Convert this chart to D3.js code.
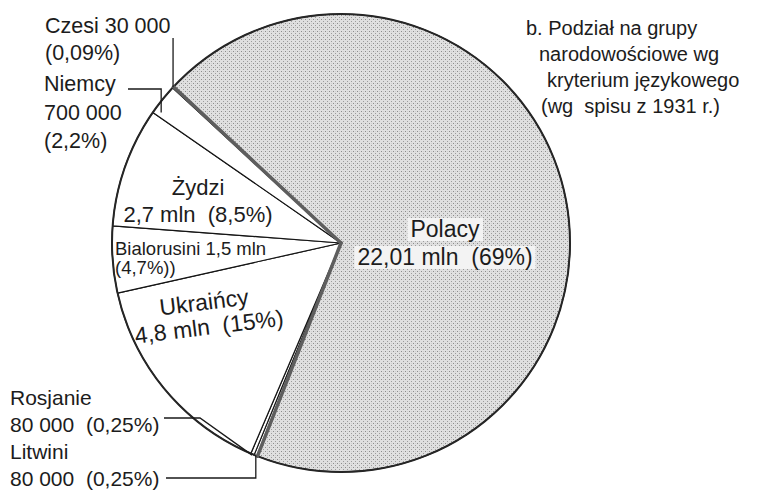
<!DOCTYPE html>
<html>
<head>
<meta charset="utf-8">
<script src="https://cdn.jsdelivr.net/npm/d3@7"></script>
<style>
  body { margin: 0; background: #fff; }
  svg { display: block; font-family: "Liberation Sans", Arial, sans-serif; }
  text { fill: #1c1c1c; white-space: pre; }
</style>
</head>
<body>
<svg width="757" height="495"></svg>
<script>
// spis 1931, tys. osób, kolejność zgodnie z ruchem wskazówek zegara od Polaków
const groups = ['Polacy', 'Litwini', 'Rosjanie', 'Ukraińcy', 'Bialorusini', 'Żydzi', 'Niemcy', 'Czesi'];
const population = [22010, 80, 80, 4800, 1500, 2700, 700, 30];
const amountLabels = ['22,01 mln', '80 000', '80 000', '4,8 mln', '1,5 mln', '2,7 mln', '700 000', '30 000'];
const shareLabels = ['(69%)', '(0,25%)', '(0,25%)', '(15%)', '(4,7%))', '(8,5%)', '(2,2%)', '(0,09%)'];
const titleLines = ['b. Podział na grupy', 'narodowościowe wg', 'kryterium językowego', '(wg  spisu z 1931 r.)'];

const svg = d3.select('svg');
const cx = 341, cy = 243, r = 229;
const deg = Math.PI / 180;

const defs = svg.append('defs');
const pat = defs.append('pattern')
    .attr('id', 'dots')
    .attr('width', 4).attr('height', 4)
    .attr('patternUnits', 'userSpaceOnUse');
pat.append('rect').attr('width', 4).attr('height', 4).attr('fill', '#e0e0e0');
pat.append('rect').attr('width', 1).attr('height', 1).attr('fill', '#8c8c8c');
pat.append('rect').attr('x', 2).attr('y', 2).attr('width', 1).attr('height', 1).attr('fill', '#9c9c9c');
pat.append('rect').attr('x', 2).attr('y', 0).attr('width', 1).attr('height', 1).attr('fill', '#cfcfcf');

const pie = d3.pie()
    .sort(null)
    .value(d => d)
    .startAngle(-47 * deg)
    .endAngle(313 * deg);
const arcs = pie(population);
const arc = d3.arc().innerRadius(0).outerRadius(r);

const g = svg.append('g').attr('transform', `translate(${cx},${cy})`);

g.selectAll('path.slice')
    .data(arcs)
    .enter().append('path')
    .attr('class', 'slice')
    .attr('d', arc)
    .attr('fill', (d, i) => i === 0 ? 'url(#dots)' : '#fff')
    .attr('stroke', '#151515')
    .attr('stroke-width', 1.2)
    .attr('stroke-linejoin', 'round');

g.append('circle')
    .attr('r', r)
    .attr('fill', 'none')
    .attr('stroke', '#262626')
    .attr('stroke-width', 2);

// grube szare krawędzie wycinka "Polacy"
const pol = arcs[0];
g.selectAll('line.edge')
    .data([pol.startAngle, pol.endAngle])
    .enter().append('line')
    .attr('class', 'edge')
    .attr('x2', a => d3.pointRadial(a, r)[0])
    .attr('y2', a => d3.pointRadial(a, r)[1])
    .attr('stroke', '#5e5e5e')
    .attr('stroke-width', 3.5)
    .attr('stroke-linecap', 'round');

// punkty zaczepienia odnośników (w układzie strony)
function atArc(d, frac, rad) {
    const a = d.startAngle + frac * (d.endAngle - d.startAngle);
    const p = d3.pointRadial(a, rad);
    return [cx + p[0], cy + p[1]];
}
const line = d3.line();
const leader = pts => svg.append('path')
    .attr('d', line(pts))
    .attr('fill', 'none')
    .attr('stroke', '#1a1a1a')
    .attr('stroke-width', 1.3);

const pCz = atArc(arcs[7], 0.5, r);
leader([[pCz[0], 38], pCz]);
const pNi = atArc(arcs[6], 0.15, r * 0.97);
leader([[128, 89], [pNi[0], 89], pNi]);
const pRo = atArc(arcs[2], 0.5, r + 1);
leader([[164, 418], [200, 418], pRo]);
const pLi = atArc(arcs[1], 0.5, r);
leader([[166, 478], [pLi[0], 478], pLi]);

function textLines(lines, opts) {
    const t = svg.append('g')
        .attr('transform', `translate(${opts.x},${opts.y}) rotate(${opts.rotate || 0})`);
    lines.forEach((s, i) => {
        t.append('text')
            .attr('x', opts.dx ? opts.dx[i] : 0)
            .attr('y', i * opts.lh)
            .attr('text-anchor', opts.anchor || 'start')
            .attr('font-size', opts.size)
            .text(s);
    });
    return t;
}

// Polacy z jaśniejszym tłem pod tekstem
const polLabel = textLines([groups[0], `${amountLabels[0]}  ${shareLabels[0]}`],
    { x: 445, y: 237, lh: 28, size: 23, anchor: 'middle' });
polLabel.selectAll('text').each(function() {
    const b = this.getBBox();
    polLabel.insert('rect', 'text')
        .attr('x', b.x - 3).attr('y', b.y + 2)
        .attr('width', b.width + 6).attr('height', b.height - 3)
        .attr('fill', '#f3f3f3');
});

textLines([groups[5], `${amountLabels[5]}  ${shareLabels[5]}`],
    { x: 198, y: 195, lh: 27, size: 22, anchor: 'middle' });
textLines([`${groups[4]} ${amountLabels[4]}`, shareLabels[4]],
    { x: 115, y: 255, lh: 19, size: 18.5 });
textLines([groups[3], `${amountLabels[3]}  ${shareLabels[3]}`],
    { x: 205, y: 310, lh: 25, size: 23, anchor: 'middle', rotate: -7, dx: [0, 2] });

textLines([`${groups[7]} ${amountLabels[7]}`, shareLabels[7]],
    { x: 45, y: 33, lh: 27, size: 21.5 });
textLines([groups[6], amountLabels[6], shareLabels[6]],
    { x: 44, y: 91, lh: 28.5, size: 21.5 });
textLines([groups[2], `${amountLabels[2]}  ${shareLabels[2]}`, groups[1], `${amountLabels[1]}  ${shareLabels[1]}`],
    { x: 10, y: 405, lh: 27, size: 21 });

textLines(titleLines,
    { x: 0, y: 35, lh: 26, size: 20, dx: [526, 539, 547, 541] });
</script>
</body>
</html>
